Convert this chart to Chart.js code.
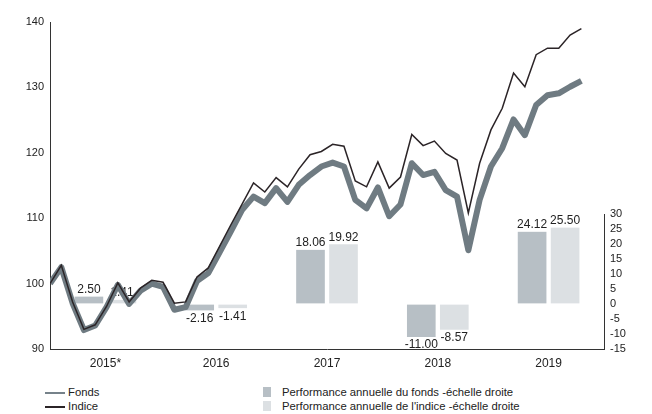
<!DOCTYPE html>
<html>
<head>
<meta charset="utf-8">
<script src="https://cdn.jsdelivr.net/npm/chart.js@4"></script>
<style>
  body { margin: 0; background: #fff; font-family: "Liberation Sans", Arial, sans-serif; }
  #wrap { position: relative; width: 652px; height: 414px; }
  .lg { position: absolute; font-size: 11.3px; color: #222; line-height: 13px; white-space: nowrap; }
  .ln { position: absolute; width: 20px; height: 2px; }
  .sq { position: absolute; width: 8px; height: 10px; }
</style>
</head>
<body>
<div id="wrap">
  <canvas id="perfChart" width="652" height="372"></canvas>
  <div class="ln" style="left:45px;top:392px;background:#76828a"></div>
  <div class="lg" style="left:68px;top:386px">Fonds</div>
  <div class="ln" style="left:45px;top:406px;background:#2b2427"></div>
  <div class="lg" style="left:68px;top:400px">Indice</div>
  <div class="sq" style="left:263px;top:387px;background:#b7bfc5"></div>
  <div class="lg" style="left:282px;top:386px">Performance annuelle du fonds -échelle droite</div>
  <div class="sq" style="left:263px;top:401px;background:#dce0e3"></div>
  <div class="lg" style="left:282px;top:400px">Performance annuelle de l'indice -échelle droite</div>
</div>
<script>
// years on the bottom axis
var YEARS = ['2015*', '2016', '2017', '2018', '2019'];

// annual performance (right scale)
var PERF_FONDS  = [2.50, -2.16, 18.06, -11.00, 24.12];
var PERF_INDICE = [1.41, -1.41, 19.92, -8.57, 25.50];

// base 100 series (left scale), one value per period
var FONDS = [100, 102.5, 97.0, 92.9, 93.6, 96.4, 99.8, 96.9, 98.9, 100.0,
  99.5, 96.0, 96.4, 100.4, 101.6, 104.8, 108.0, 111.3, 113.3, 112.3,
  114.6, 112.5, 115.1, 116.6, 117.9, 118.5, 117.9, 112.8, 111.5, 114.7,
  110.3, 112.1, 118.4, 116.6, 117.1, 114.3, 113.3, 105.1, 112.8, 117.9,
  120.7, 125.1, 122.7, 127.3, 128.8, 129.1, 130.1, 131.0];
var INDICE = [100, 102.8, 97.2, 93.0, 93.7, 96.5, 100.1, 97.2, 99.3, 100.5,
  100.2, 97.0, 97.2, 101.0, 102.4, 105.7, 109.0, 112.2, 115.4, 114.0,
  116.2, 114.8, 117.5, 119.7, 120.2, 121.3, 121.0, 115.7, 114.8, 118.6,
  114.6, 116.3, 122.8, 121.1, 121.8, 119.9, 118.9, 110.8, 118.4, 123.5,
  126.8, 132.2, 130.1, 135.0, 136.0, 136.0, 138.0, 139.0];

var LEFT_TICKS = [90, 100, 110, 120, 130, 140];
var RIGHT_TICKS = [-15, -10, -5, 0, 5, 10, 15, 20, 25, 30];

function toPoints(arr) {
  return arr.map(function(v, i) { return { x: i, y: v }; });
}

var barLabels = {
  id: 'barLabels',
  afterDatasetDraw: function(chart, args) {
    var meta = args.meta;
    if (meta.type !== 'bar') return;
    var ctx = chart.ctx;
    var values = chart.data.datasets[args.index].data;
    ctx.save();
    ctx.font = '12px "Liberation Sans", Arial, sans-serif';
    ctx.fillStyle = '#222';
    ctx.textAlign = 'center';
    meta.data.forEach(function(el, i) {
      var v = values[i];
      if (v >= 0) {
        ctx.textBaseline = 'bottom';
        ctx.fillText(v.toFixed(2), el.x, el.y - 1);
      } else {
        ctx.textBaseline = 'top';
        ctx.fillText(v.toFixed(2), el.x, el.y + 2);
      }
    });
    ctx.restore();
  }
};

var rightAxisLine = {
  id: 'rightAxisLine',
  afterDraw: function(chart) {
    var s = chart.scales.y2, ctx = chart.ctx;
    var x = Math.round(chart.chartArea.right) + 0.5;
    ctx.save();
    ctx.strokeStyle = '#333';
    ctx.lineWidth = 1;
    ctx.beginPath();
    ctx.moveTo(x, s.getPixelForValue(30));
    ctx.lineTo(x, s.getPixelForValue(-15));
    ctx.stroke();
    ctx.restore();
  }
};

var tickFont = { size: 11, family: '"Liberation Sans", Arial, sans-serif' };
var noGrid = { drawOnChartArea: false, drawTicks: false };

// bars: 33px slots, white side borders leave a 5px gap between them
var barStyle = {
  barThickness: 33,
  borderWidth: { left: 2.5, right: 2.5, top: 0, bottom: 0 },
  borderColor: '#ffffff',
  borderSkipped: false
};

new Chart(document.getElementById('perfChart'), {
  type: 'bar',
  data: {
    labels: YEARS,
    datasets: [
      {
        type: 'line', label: 'Indice', data: toPoints(INDICE),
        xAxisID: 'xl', yAxisID: 'y', order: 0,
        borderColor: '#2b2427', borderWidth: 1.5, pointRadius: 0, tension: 0
      },
      {
        type: 'line', label: 'Fonds', data: toPoints(FONDS),
        xAxisID: 'xl', yAxisID: 'y', order: 1,
        borderColor: '#6f7b82', borderWidth: 6, pointRadius: 0, tension: 0,
        borderJoinStyle: 'round'
      },
      Object.assign({
        label: 'Performance annuelle du fonds', data: PERF_FONDS,
        xAxisID: 'x', yAxisID: 'y2', order: 2,
        backgroundColor: '#b7bfc5'
      }, barStyle),
      Object.assign({
        label: "Performance annuelle de l'indice", data: PERF_INDICE,
        xAxisID: 'x', yAxisID: 'y2', order: 2,
        backgroundColor: '#dce0e3'
      }, barStyle)
    ]
  },
  options: {
    responsive: false,
    animation: false,
    layout: { padding: { top: 22, left: 0, right: 0, bottom: 0 } },
    plugins: { legend: { display: false }, tooltip: { enabled: false } },
    scales: {
      x: {
        type: 'category', position: 'bottom', offset: true,
        grid: noGrid,
        border: { display: true, color: '#333', width: 1 },
        ticks: { color: '#222', padding: 7, font: { size: 12, family: tickFont.family } },
        afterFit: function(s) { s.height = 23; }
      },
      xl: {
        type: 'linear', position: 'bottom', display: false, min: 0, max: 49,
        offset: false, grid: { offset: false }
      },
      y: {
        position: 'left', min: 90, max: 140,
        grid: noGrid,
        border: { display: true, color: '#333', width: 1 },
        ticks: { color: '#222', padding: 6, font: tickFont },
        afterBuildTicks: function(s) { s.ticks = LEFT_TICKS.map(function(v) { return { value: v }; }); },
        afterFit: function(s) { s.width = 50; }
      },
      y2: {
        position: 'right', min: -15, max: 94,
        grid: noGrid,
        border: { display: false },
        ticks: { color: '#222', padding: 6, font: tickFont },
        afterBuildTicks: function(s) { s.ticks = RIGHT_TICKS.map(function(v) { return { value: v }; }); },
        afterFit: function(s) { s.width = 48; }
      }
    }
  },
  plugins: [barLabels, rightAxisLine]
});
</script>
</body>
</html>
